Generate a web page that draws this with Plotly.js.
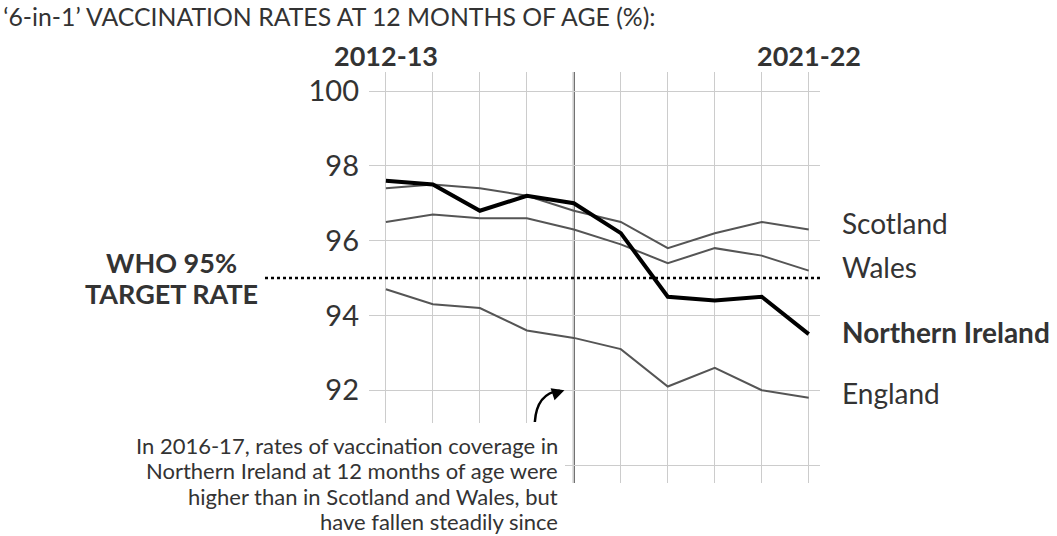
<!DOCTYPE html>
<html>
<head>
<meta charset="utf-8">
<script src="https://cdn.plot.ly/plotly-3.0.1.min.js"></script>
<style>
  html, body { margin: 0; padding: 0; background: #fff; }
  #chart { width: 1057px; height: 536px; }
</style>
</head>
<body>
<div id="chart"></div>
<script>
// ---- data ----
var years = ['2012-13','2013-14','2014-15','2015-16','2016-17','2017-18','2018-19','2019-20','2020-21','2021-22'];
var scotland        = [97.4, 97.5, 97.4, 97.2, 96.8, 96.5, 95.8, 96.2, 96.5, 96.3];
var wales           = [96.5, 96.7, 96.6, 96.6, 96.3, 95.9, 95.4, 95.8, 95.6, 95.2];
var northernIreland = [97.6, 97.5, 96.8, 97.2, 97.0, 96.2, 94.5, 94.4, 94.5, 93.5];
var england         = [94.7, 94.3, 94.2, 93.6, 93.4, 93.1, 92.1, 92.6, 92.0, 91.8];
var yTicks      = [90, 92, 94, 96, 98, 100];
var yTickLabels = ['', '92', '94', '96', '98', '100'];
var whoTarget = 95;
var highlightYear = '2016-17';
var noteLines = [
  'In 2016-17, rates of vaccination coverage in',
  'Northern Ireland at 12 months of age were',
  'higher than in Scotland and Wales, but',
  'have fallen steadily since'
];

var FONT = 'Lato, "Open Sans", sans-serif';
var TXT = '#333333';
var GREY = '#555555';

function series(name, y, color, width) {
  return { type: 'scatter', mode: 'lines', name: name, x: years, y: y,
           line: { color: color, width: width }, hoverinfo: 'skip' };
}

var traces = [
  series('England', england, GREY, 2),
  series('Wales', wales, GREY, 2),
  series('Scotland', scotland, GREY, 2),
  series('Northern Ireland', northernIreland, '#000000', 4)
];

var last = function (a) { return a[a.length - 1]; };

function endLabel(text, y, shift) {
  return { xref: 'paper', yref: 'y', x: 1.0443, y: y, yshift: shift, xanchor: 'left', yanchor: 'middle',
           showarrow: false, text: text, font: { family: FONT, size: 28, color: TXT } };
}

var annotations = [
  { xref: 'x', yref: 'paper', x: years[0], y: 1, yshift: 17, yanchor: 'middle', showarrow: false,
    text: '<b>' + years[0] + '</b>', font: { family: FONT, size: 27, color: TXT } },
  { xref: 'x', yref: 'paper', x: years[years.length - 1], y: 1, yshift: 17, yanchor: 'middle', showarrow: false,
    text: '<b>' + years[years.length - 1] + '</b>', font: { family: FONT, size: 27, color: TXT } },
  endLabel('Scotland', last(scotland), 6),
  endLabel('Wales', last(wales), 4),
  endLabel('<b>Northern Ireland</b>', last(northernIreland), 2),
  endLabel('England', last(england), 5),
  { xref: 'paper', yref: 'y', x: -0.437, y: whoTarget, yshift: 16, xanchor: 'center', yanchor: 'middle', showarrow: false,
    text: '<b>WHO 95%</b>', font: { family: FONT, size: 27, color: TXT } },
  { xref: 'paper', yref: 'y', x: -0.437, y: whoTarget, yshift: -15, xanchor: 'center', yanchor: 'middle', showarrow: false,
    text: '<b>TARGET RATE</b>', font: { family: FONT, size: 27, color: TXT } },
  // arrow head
  { xref: 'x', yref: 'y', x: 3.80, y: 92.0, ax: -9, ay: 3, showarrow: true,
    arrowhead: 2, arrowsize: 1, arrowwidth: 2.5, arrowcolor: '#000', text: '' }
];

var noteShifts = [38, 12.5, -13, -38.5];
noteLines.forEach(function (t, i) {
  annotations.push({ xref: 'x', yref: 'paper', x: 3.70, y: 0, yshift: noteShifts[i],
    xanchor: 'right', yanchor: 'middle', showarrow: false, text: t,
    font: { family: FONT, size: 22, color: TXT } });
});

var shapes = [
  { type: 'line', xref: 'x', yref: 'paper', x0: highlightYear, x1: highlightYear, y0: 0, y1: 1,
    line: { color: '#555555', width: 2 }, layer: 'below' },
  { type: 'line', xref: 'paper', yref: 'y', x0: -0.2306, x1: 1, y0: whoTarget, y1: whoTarget,
    line: { color: '#000', width: 2.5, dash: 'dot' }, layer: 'above' },
  // white backing behind the note (hides grid)
  { type: 'rect', xref: 'paper', yref: 'paper', x0: 0, x1: 0.4346, y0: 0, y1: 0.146,
    fillcolor: '#ffffff', line: { width: 0 }, layer: 'above' },
  { type: 'path', xref: 'x', yref: 'y',
    path: 'M 3.17 91.15 Q 3.21 91.92 3.70 91.99',
    line: { color: '#000', width: 2.5 }, layer: 'above' }
];

var layout = {
  width: 1057, height: 536,
  margin: { l: 369, r: 237, t: 72, b: 53 },
  paper_bgcolor: '#fff', plot_bgcolor: '#fff',
  showlegend: false,
  title: { text: '\u20186-in-1\u2019 VACCINATION RATES AT 12 MONTHS OF AGE (%):',
           xref: 'container', x: 0.003, xanchor: 'left', yref: 'container', y: 0.968, yanchor: 'middle',
           font: { family: FONT, size: 24.8, color: TXT } },
  xaxis: { type: 'category', range: [-0.36, 9.24], showticklabels: false, ticks: '',
           showgrid: true, gridcolor: '#cccccc', gridwidth: 1, zeroline: false, showline: false, fixedrange: true },
  yaxis: { range: [89.52, 100.51], tickvals: yTicks, ticktext: yTickLabels, ticks: '',
           ticklabelstandoff: 9,
           showgrid: true, gridcolor: '#cccccc', gridwidth: 1, zeroline: false, showline: false,
           tickfont: { family: FONT, size: 29, color: TXT }, fixedrange: true },
  annotations: annotations,
  shapes: shapes
};

Plotly.newPlot('chart', traces, layout, { displayModeBar: false, staticPlot: true });
</script>
</body>
</html>
